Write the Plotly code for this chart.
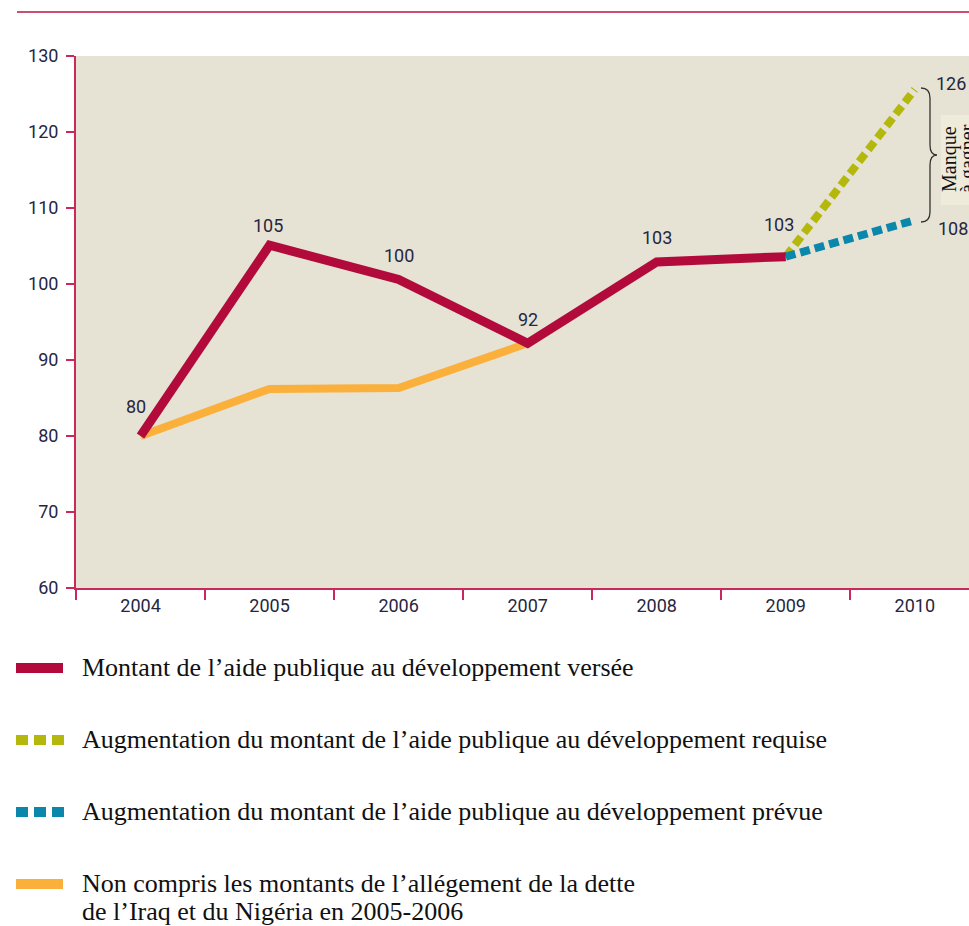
import plotly.graph_objects as go

years = ["2004", "2005", "2006", "2007", "2008", "2009", "2010"]
verse = [80, 105.1, 100.6, 92.2, 102.9, 103.6]
verse_labels = ["80", "105", "100", "92", "103", "103"]
hors_dette = [80, 86.2, 86.3, 92.2]
requise = [103.6, 125.6]
prevue = [103.6, 108.4]
end_labels = ["126", "108"]
y_ticks = [60, 70, 80, 90, 100, 110, 120, 130]

legend_lines = [
    ["Montant de l’aide publique au développement versée"],
    ["Augmentation du montant de l’aide publique au développement requise"],
    ["Augmentation du montant de l’aide publique au développement prévue"],
    ["Non compris les montants de l’allégement de la dette",
     "de l’Iraq et du Nigéria en 2005-2006"],
]
gap_lines = ["Manque", "à gagner"]

RED = "#b20a3a"
ORANGE = "#fbb03b"
GREEN = "#b5b80c"
BLUE = "#0a87ab"
AXIS = "#c8285a"
TXT = "#262640"
W, H = 969, 926
L, R, T, B = 76, 0, 56, 338
PW = W - L - R
PH = H - T - B

def px(x):
    return (x - L) / PW

def py(y):
    return (H - B - y) / PH

fig = go.Figure()
fig.add_trace(go.Scatter(x=years[:4], y=hors_dette, mode="lines",
                         line=dict(color=ORANGE, width=8), showlegend=False))
fig.add_trace(go.Scatter(x=years[5:7], y=requise, mode="lines",
                         line=dict(color=GREEN, width=8, dash="10px,5px"), showlegend=False))
fig.add_trace(go.Scatter(x=years[5:7], y=prevue, mode="lines",
                         line=dict(color=BLUE, width=8, dash="10px,5px"), showlegend=False))
fig.add_trace(go.Scatter(x=years[:6], y=verse, mode="lines",
                         line=dict(color=RED, width=9), showlegend=False))

annotations = []
label_font = dict(family="Roboto, sans-serif", size=18, color=TXT)
offsets = [(-5, -30), (-2, -20), (0, -24), (0, -24), (0, -24), (-7, -32)]
for i, (v, t) in enumerate(zip(verse, verse_labels)):
    dx, dy = offsets[i]
    annotations.append(dict(x=i, y=v, text=t, showarrow=False, xshift=dx, yshift=-dy,
                            font=label_font, xanchor="center", yanchor="middle"))
annotations.append(dict(x=6, y=requise[1], text=end_labels[0], showarrow=False,
                        xshift=36, yshift=6, font=label_font, xanchor="center", yanchor="middle"))
annotations.append(dict(x=6, y=prevue[1], text=end_labels[1], showarrow=False,
                        xshift=38, yshift=-8, font=label_font, xanchor="center", yanchor="middle"))

# "Manque à gagner" text (rotated, two separate lines)
serif_small = dict(family="Liberation Serif, serif", size=20, color="#111111")
for t, xx in zip(gap_lines, [949, 967]):
    annotations.append(dict(xref="paper", yref="paper", x=px(xx), y=py(159), text=t,
                            textangle=-90, showarrow=False, font=serif_small,
                            xanchor="center", yanchor="middle"))

# Legend texts
leg_font = dict(family="Liberation Serif, serif", size=26, color="#111111")
leg_y = [667, 740, 811, 883]
for lines, yy in zip(legend_lines, leg_y):
    for j, t in enumerate(lines):
        annotations.append(dict(xref="paper", yref="paper", x=px(80), y=py(yy + 28 * j), text=t,
                                showarrow=False, align="left", xanchor="left", yanchor="middle",
                                font=leg_font))

shapes = []
# top rule
shapes.append(dict(type="line", xref="paper", yref="paper", x0=px(17), x1=px(969),
                   y0=py(12), y1=py(12), line=dict(color="#c9506e", width=2)))
# light box behind "Manque à gagner"
shapes.append(dict(type="rect", xref="paper", yref="paper", x0=px(941), x1=px(975),
                   y0=py(205), y1=py(115), fillcolor="#efebda", line=dict(width=0),
                   layer="below"))
# brace
pts = [(921, 88), (930, 88), (930, 98), (930, 145), (930, 155), (937, 155),
       (930, 155), (930, 165), (930, 212), (930, 222), (921, 222)]
p = [(px(a), py(b)) for a, b in pts]
path = (f"M {p[0][0]},{p[0][1]} Q {p[1][0]},{p[1][1]} {p[2][0]},{p[2][1]} "
        f"L {p[3][0]},{p[3][1]} Q {p[4][0]},{p[4][1]} {p[5][0]},{p[5][1]} "
        f"Q {p[6][0]},{p[6][1]} {p[7][0]},{p[7][1]} L {p[8][0]},{p[8][1]} "
        f"Q {p[9][0]},{p[9][1]} {p[10][0]},{p[10][1]}")
shapes.append(dict(type="path", xref="paper", yref="paper", path=path,
                   line=dict(color="#333333", width=1.3)))
# legend symbols
shapes.append(dict(type="line", xref="paper", yref="paper", x0=px(16), x1=px(63),
                   y0=py(668), y1=py(668), line=dict(color=RED, width=10)))
for (yy, col) in [(740, GREEN), (812, BLUE)]:
    for k in range(3):
        x0 = 14 + k * 18
        shapes.append(dict(type="line", xref="paper", yref="paper", x0=px(x0 + 2), x1=px(x0 + 14),
                           y0=py(yy), y1=py(yy), line=dict(color=col, width=10)))
shapes.append(dict(type="line", xref="paper", yref="paper", x0=px(16), x1=px(63),
                   y0=py(884), y1=py(884), line=dict(color=ORANGE, width=10)))

tick_font = dict(family="Roboto, sans-serif", size=18, color=TXT)
fig.update_layout(
    width=W, height=H,
    margin=dict(l=L, r=R, t=T, b=B, pad=0),
    paper_bgcolor="white", plot_bgcolor="#e6e3d4",
    showlegend=False,
    annotations=annotations, shapes=shapes,
    xaxis=dict(type="category", categoryorder="array", categoryarray=years,
               range=[-0.5, 6.42], tickson="boundaries", ticks="outside", ticklen=10,
               tickcolor=AXIS, tickwidth=1.5, showline=True, linecolor=AXIS, linewidth=2,
               showgrid=False, zeroline=False, tickfont=tick_font, fixedrange=True),
    yaxis=dict(range=[60, 130], tickvals=y_ticks, ticks="outside", ticklen=8,
               tickcolor=AXIS, tickwidth=2, showline=True, linecolor=AXIS, linewidth=2,
               showgrid=False, zeroline=False, tickfont=tick_font, fixedrange=True,
               ticklabelstandoff=4),
)

fig.write_html("out.html", config={"displayModeBar": False},
               post_script="document.body.style.margin='0';document.body.style.overflow='hidden';")
